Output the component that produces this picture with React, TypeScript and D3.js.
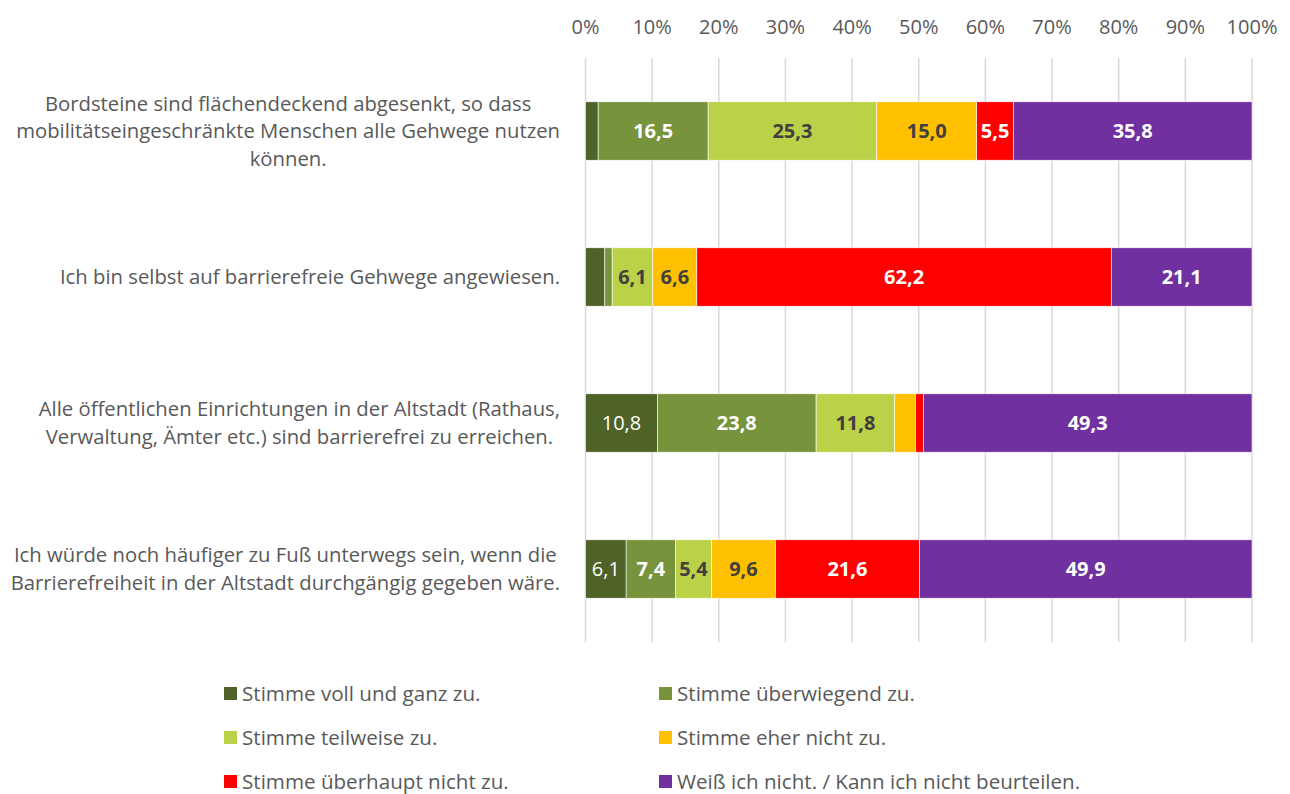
import React from "react";
import * as d3 from "d3";

const categories = [
  ["Bordsteine sind flächendeckend abgesenkt, so dass", "mobilitätseingeschränkte Menschen alle Gehwege nutzen", "können."],
  ["Ich bin selbst auf barrierefreie Gehwege angewiesen."],
  ["Alle öffentlichen Einrichtungen in der Altstadt (Rathaus,", "Verwaltung, Ämter etc.) sind barrierefrei zu erreichen."],
  ["Ich würde noch häufiger zu Fuß unterwegs sein, wenn die", "Barrierefreiheit in der Altstadt durchgängig gegeben wäre."],
];
const seriesNames = [
  "Stimme voll und ganz zu.",
  "Stimme überwiegend zu.",
  "Stimme teilweise zu.",
  "Stimme eher nicht zu.",
  "Stimme überhaupt nicht zu.",
  "Weiß ich nicht. / Kann ich nicht beurteilen.",
];
const colors = ["#4F6228", "#77933C", "#BBD147", "#FFC000", "#FF0000", "#7030A0"];
const labelColors = ["#FFFFFF", "#FFFFFF", "#404040", "#404040", "#FFFFFF", "#FFFFFF"];
const values = [
  [1.9, 16.5, 25.3, 15.0, 5.5, 35.8],
  [2.9, 1.1, 6.1, 6.6, 62.2, 21.1],
  [10.8, 23.8, 11.8, 3.1, 1.2, 49.3],
  [6.1, 7.4, 5.4, 9.6, 21.6, 49.9],
];
const boldLabels = [
  [true, true, true, true, true, true],
  [true, true, true, true, true, true],
  [false, true, true, true, true, true],
  [false, true, true, true, true, true],
];
const ticks = [0, 10, 20, 30, 40, 50, 60, 70, 80, 90, 100];

const FONT = "'Open Sans', sans-serif";

let ctx: CanvasRenderingContext2D | null = null;
function measure(t: string, size: number) {
  if (!ctx) ctx = document.createElement("canvas").getContext("2d");
  ctx!.font = `${size}px 'Open Sans'`;
  return ctx!.measureText(t).width;
}

export default function App() {
  const W = 1290, H = 794;
  const x = d3.scaleLinear().domain([0, 100]).range([585.5, 1252]);
  const y = d3.scaleBand<number>().domain(d3.range(categories.length)).range([58, 642]).paddingInner(0.6).paddingOuter(0.3);
  const catFont = 20.3;
  const lineH = 27.5;
  return (
    <svg width={W} height={H} style={{ position: "absolute", left: 0, top: 0, background: "#fff" }} fontFamily={FONT}>
      {ticks.map((t) => (
        <g key={t}>
          <line x1={x(t)} x2={x(t)} y1={58} y2={642} stroke="#D9D9D9" strokeWidth={1.5} />
          <text x={x(t)} y={34} textAnchor="middle" fontSize={20} fill="#595959">{t}%</text>
        </g>
      ))}
      {values.map((row, i) => {
        let acc = 0;
        const y0 = y(i)!;
        const bh = y.bandwidth();
        return (
          <g key={i}>
            {row.map((v, j) => {
              const x0 = x(acc);
              acc += v;
              const x1 = x(acc);
              const showLabel = v >= 5;
              return (
                <g key={j}>
                  <rect x={x0} y={y0} width={x1 - x0} height={bh} fill={colors[j]} stroke="#fff" strokeWidth={0.6} />
                  {showLabel && (
                    <text x={(x0 + x1) / 2} y={y0 + bh / 2 + 7} textAnchor="middle" fontSize={20}
                      fontWeight={boldLabels[i][j] ? 700 : 400} fill={labelColors[j]}>
                      {v.toFixed(1).replace(".", ",")}
                    </text>
                  )}
                </g>
              );
            })}
          </g>
        );
      })}
      {categories.map((lines, i) => {
        const cy = y(i)! + y.bandwidth() / 2;
        const maxW = Math.max(...lines.map((l) => measure(l, catFont)));
        const cx = 560 - maxW / 2;
        const startY = cy - ((lines.length - 1) * lineH) / 2 + 7;
        return (
          <text key={i} fontSize={catFont} fill="#595959" textAnchor="middle">
            {lines.map((l, k) => (
              <tspan key={k} x={cx} y={startY + k * lineH}>{l}</tspan>
            ))}
          </text>
        );
      })}
      {seriesNames.map((s, j) => {
        const col = j % 2;
        const row = Math.floor(j / 2);
        const lx = col === 0 ? 224 : 659;
        const ly = 694 + row * 44;
        return (
          <g key={j}>
            <rect x={lx} y={ly - 7} width={13} height={13} fill={colors[j]} />
            <text x={lx + 18} y={ly + 7} fontSize={20.6} fill="#595959">{s}</text>
          </g>
        );
      })}
    </svg>
  );
}
